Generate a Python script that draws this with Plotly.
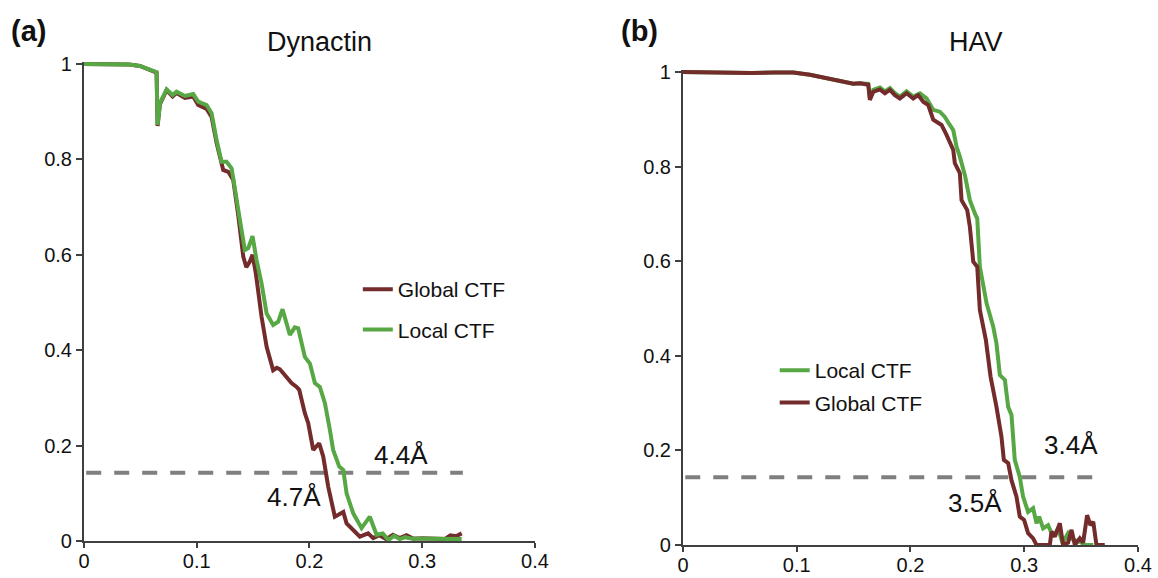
import plotly.graph_objects as go

# ---- Dynactin FSC curves ----
dyn_global_x = [0, 0.02, 0.04, 0.0496, 0.0644, 0.0653, 0.0674, 0.0733, 0.0786, 0.0821,
                0.0895, 0.0969, 0.1013, 0.1088, 0.1132, 0.1176, 0.1220, 0.1235, 0.1280,
                0.1324, 0.1370, 0.1413, 0.1440, 0.1470, 0.1495, 0.1525, 0.1575, 0.1620,
                0.1678, 0.1710, 0.1738, 0.1797, 0.1841, 0.1886, 0.1909, 0.1959, 0.1989,
                0.2033, 0.2086, 0.2122, 0.2166, 0.2225, 0.2270, 0.2300, 0.2329, 0.2388,
                0.2447, 0.2520, 0.2565, 0.2620, 0.2680, 0.2740, 0.2800, 0.2860, 0.2920,
                0.3000, 0.3100, 0.3200, 0.3250, 0.3300, 0.3350]
dyn_global_y = [1.000, 1.000, 0.999, 0.996, 0.982, 0.870, 0.916, 0.945, 0.932, 0.939,
                0.929, 0.932, 0.914, 0.906, 0.889, 0.835, 0.785, 0.778, 0.774,
                0.757, 0.680, 0.596, 0.574, 0.585, 0.600, 0.560, 0.470, 0.407,
                0.358, 0.363, 0.360, 0.344, 0.331, 0.323, 0.317, 0.268, 0.247,
                0.191, 0.205, 0.177, 0.114, 0.051, 0.058, 0.061, 0.037, 0.023,
                0.009, 0.016, 0.006, 0.012, 0.004, 0.013, 0.006, 0.012, 0.005,
                0.006, 0.004, 0.004, 0.012, 0.010, 0.016]

dyn_local_x = [0, 0.02, 0.04, 0.0496, 0.0644, 0.0653, 0.0674, 0.0733, 0.0786, 0.0821,
               0.0895, 0.0969, 0.1013, 0.1088, 0.1132, 0.1176, 0.1220, 0.1265, 0.1310,
               0.1383, 0.1427, 0.1457, 0.1495, 0.1530, 0.1575, 0.1620, 0.1678, 0.1723,
               0.1761, 0.1826, 0.1870, 0.1900, 0.1959, 0.2004, 0.2048, 0.2092, 0.2137,
               0.2181, 0.2210, 0.2264, 0.2300, 0.2329, 0.2388, 0.2462, 0.2535, 0.2595,
               0.2650, 0.2700, 0.2750, 0.2800, 0.2850, 0.2900, 0.3000, 0.3100, 0.3200,
               0.3300, 0.3350]
dyn_local_y = [1.000, 1.000, 0.999, 0.996, 0.983, 0.872, 0.918, 0.947, 0.935, 0.942,
               0.933, 0.937, 0.921, 0.914, 0.897, 0.841, 0.795, 0.795, 0.781,
               0.673, 0.610, 0.614, 0.639, 0.590, 0.540, 0.477, 0.453, 0.460,
               0.486, 0.432, 0.448, 0.446, 0.386, 0.372, 0.331, 0.323, 0.289,
               0.233, 0.191, 0.156, 0.149, 0.100, 0.058, 0.027, 0.051, 0.013,
               0.016, 0.002, 0.011, 0.004, 0.008, 0.005, 0.005, 0.004, 0.004,
               0.004, 0.004]

# ---- HAV FSC curves ----
hav_global_x = [0, 0.02, 0.04, 0.06, 0.08, 0.097, 0.1116, 0.120, 0.1263, 0.135, 0.1409,
                0.145, 0.1497, 0.1556, 0.1629, 0.1643, 0.1673, 0.1731, 0.1775, 0.1819,
                0.1863, 0.1907, 0.1966, 0.2024, 0.2068, 0.2112, 0.2156, 0.2200, 0.2273,
                0.2317, 0.2376, 0.2390, 0.2434, 0.2449, 0.2499, 0.2522, 0.2552, 0.2587,
                0.2610, 0.2663, 0.2704, 0.2756, 0.2800, 0.2821, 0.2859, 0.2888, 0.2932,
                0.2961, 0.2999, 0.3034, 0.3078, 0.3108, 0.3225, 0.3240, 0.3270, 0.3313,
                0.3342, 0.3386, 0.3416, 0.3445, 0.3489, 0.3518, 0.3553, 0.3582, 0.3607,
                0.3635, 0.3708]
hav_global_y = [1.000, 0.999, 0.998, 0.998, 0.999, 0.999, 0.994, 0.990, 0.987, 0.982, 0.980,
                0.978, 0.975, 0.976, 0.973, 0.941, 0.958, 0.963, 0.955, 0.962,
                0.951, 0.944, 0.955, 0.944, 0.951, 0.937, 0.930, 0.899, 0.888,
                0.867, 0.835, 0.807, 0.786, 0.729, 0.708, 0.673, 0.599, 0.588,
                0.497, 0.433, 0.356, 0.292, 0.229, 0.180, 0.173, 0.137, 0.102,
                0.060, 0.053, 0.025, 0.014, 0.000, 0.000, 0.028, 0.018, 0.046,
                0.000, 0.005, 0.032, 0.000, 0.014, 0.005, 0.063, 0.042, 0.049,
                0.000, 0.000]

hav_local_x = [0, 0.02, 0.04, 0.06, 0.08, 0.097, 0.1116, 0.120, 0.1263, 0.135, 0.1409,
               0.145, 0.1497, 0.1556, 0.1629, 0.1643, 0.1673, 0.1731, 0.1775, 0.1819,
               0.1863, 0.1907, 0.1966, 0.2024, 0.2083, 0.2141, 0.2200, 0.2258, 0.2302,
               0.2346, 0.2376, 0.2405, 0.2434, 0.2480, 0.2522, 0.2566, 0.2587, 0.2610,
               0.2669, 0.2727, 0.2756, 0.2786, 0.2830, 0.2859, 0.2888, 0.2917, 0.2961,
               0.2990, 0.3034, 0.3078, 0.3108, 0.3131, 0.3166, 0.3210, 0.3254, 0.3298,
               0.3337, 0.3386, 0.3430, 0.3489, 0.3533, 0.3607]
hav_local_y = [1.000, 0.999, 0.998, 0.998, 0.999, 0.999, 0.994, 0.990, 0.987, 0.982, 0.980,
               0.978, 0.975, 0.976, 0.975, 0.945, 0.962, 0.967, 0.959, 0.966,
               0.955, 0.948, 0.959, 0.948, 0.955, 0.944, 0.920, 0.916, 0.905,
               0.888, 0.877, 0.842, 0.821, 0.780, 0.729, 0.701, 0.690, 0.588,
               0.511, 0.462, 0.426, 0.359, 0.349, 0.292, 0.275, 0.180, 0.144,
               0.102, 0.070, 0.078, 0.046, 0.060, 0.035, 0.042, 0.018, 0.035,
               0.004, 0.025, 0.011, 0.007, 0.000, 0.000]

FSC_THRESHOLD = 0.143
x_ticks = [0, 0.1, 0.2, 0.3, 0.4]
y_ticks = [0, 0.2, 0.4, 0.6, 0.8, 1]

GREEN = "#57A845"
BROWN = "#742B2B"
DASH = "#7F7F7F"
AXIS = "#404040"
FONT = "Liberation Sans, Arial, sans-serif"
CURVE_W = 4

fig = go.Figure()

# Panel (a): Dynactin
fig.add_trace(go.Scatter(x=dyn_global_x, y=dyn_global_y, mode="lines", name="Global CTF",
                         line=dict(color=BROWN, width=CURVE_W), xaxis="x", yaxis="y",
                         legend="legend", legendgroup="a1"))
fig.add_trace(go.Scatter(x=dyn_local_x, y=dyn_local_y, mode="lines", name="Local CTF",
                         line=dict(color=GREEN, width=CURVE_W), xaxis="x", yaxis="y",
                         legend="legend", legendgroup="a2"))

# Panel (b): HAV (global drawn on top)
fig.add_trace(go.Scatter(x=hav_local_x, y=hav_local_y, mode="lines", name="Local CTF",
                         line=dict(color=GREEN, width=CURVE_W), xaxis="x2", yaxis="y2",
                         legend="legend2", legendgroup="b1"))
fig.add_trace(go.Scatter(x=hav_global_x, y=hav_global_y, mode="lines", name="Global CTF",
                         line=dict(color=BROWN, width=CURVE_W), xaxis="x2", yaxis="y2",
                         legend="legend2", legendgroup="b2"))

# 0.143 threshold lines
fig.add_shape(type="line", xref="x domain", yref="y", x0=0.005, x1=0.84,
              y0=FSC_THRESHOLD, y1=FSC_THRESHOLD,
              line=dict(color=DASH, width=4, dash="15px,13px"), layer="below")
fig.add_shape(type="line", xref="x2 domain", yref="y2", x0=0.005, x1=0.90,
              y0=FSC_THRESHOLD, y1=FSC_THRESHOLD,
              line=dict(color=DASH, width=4, dash="15px,13px"), layer="below")

axis_common = dict(showline=True, linecolor=AXIS, linewidth=2, ticks="outside",
                   tickwidth=2, tickcolor=AXIS, showgrid=False,
                   zeroline=False, automargin=False,
                   tickfont=dict(size=20, color="#111111", family=FONT))
x_axis_style = dict(ticklen=5, ticklabelstandoff=-4, **axis_common)
y_axis_style = dict(ticklen=6, **axis_common)

fig.update_layout(
    width=1158, height=578, autosize=False,
    margin=dict(l=0, r=0, t=0, b=0, pad=0),
    paper_bgcolor="white", plot_bgcolor="white",
    font=dict(family=FONT, color="#111111"),
    xaxis=dict(domain=[0.0725, 0.462], range=[0, 0.4], tickvals=x_ticks,
               anchor="y", **x_axis_style),
    yaxis=dict(domain=[0.0640, 0.8934], range=[0, 1.005], tickvals=y_ticks,
               anchor="x", **y_axis_style),
    xaxis2=dict(domain=[0.5898, 0.9827], range=[0, 0.4], tickvals=x_ticks,
                anchor="y2", **x_axis_style),
    yaxis2=dict(domain=[0.0571, 0.8796], range=[0, 1.005], tickvals=y_ticks,
                anchor="x2", **y_axis_style),
    legend=dict(x=0.309, y=0.5346, xanchor="left", yanchor="top",
                font=dict(size=21, family=FONT, color="#111111"),
                traceorder="grouped", tracegroupgap=10,
                bgcolor="rgba(0,0,0,0)"),
    legend2=dict(x=0.669, y=0.3944, xanchor="left", yanchor="top",
                 font=dict(size=21, family=FONT, color="#111111"),
                 traceorder="grouped", tracegroupgap=2,
                 bgcolor="rgba(0,0,0,0)"),
    showlegend=True,
)

# Panel letters and titles
fig.add_annotation(text="<b>(a)</b>", xref="paper", yref="paper", x=9 / 1158, y=1 - 31 / 578,
                   xanchor="left", yanchor="middle", showarrow=False,
                   font=dict(size=29, family=FONT, color="#111111"))
fig.add_annotation(text="<b>(b)</b>", xref="paper", yref="paper", x=619 / 1158, y=1 - 31 / 578,
                   xanchor="left", yanchor="middle", showarrow=False,
                   font=dict(size=29, family=FONT, color="#111111"))
fig.add_annotation(text="Dynactin", xref="paper", yref="paper", x=319 / 1158, y=1 - 42 / 578,
                   xanchor="center", yanchor="middle", showarrow=False,
                   font=dict(size=27, family=FONT, color="#111111"))
fig.add_annotation(text="HAV", xref="paper", yref="paper", x=976 / 1158, y=1 - 42 / 578,
                   xanchor="center", yanchor="middle", showarrow=False,
                   font=dict(size=27, family=FONT, color="#111111"))

# Resolution labels
res_font = dict(size=26, family=FONT, color="#111111")
fig.add_annotation(text="4.4Å", xref="x", yref="y", x=0.281, y=0.180,
                   showarrow=False, font=res_font)
fig.add_annotation(text="4.7Å", xref="x", yref="y", x=0.186, y=0.092,
                   showarrow=False, font=res_font)
fig.add_annotation(text="3.4Å", xref="x2", yref="y2", x=0.341, y=0.211,
                   showarrow=False, font=res_font)
fig.add_annotation(text="3.5Å", xref="x2", yref="y2", x=0.2566, y=0.089,
                   showarrow=False, font=res_font)

fig.write_html("out.html")
